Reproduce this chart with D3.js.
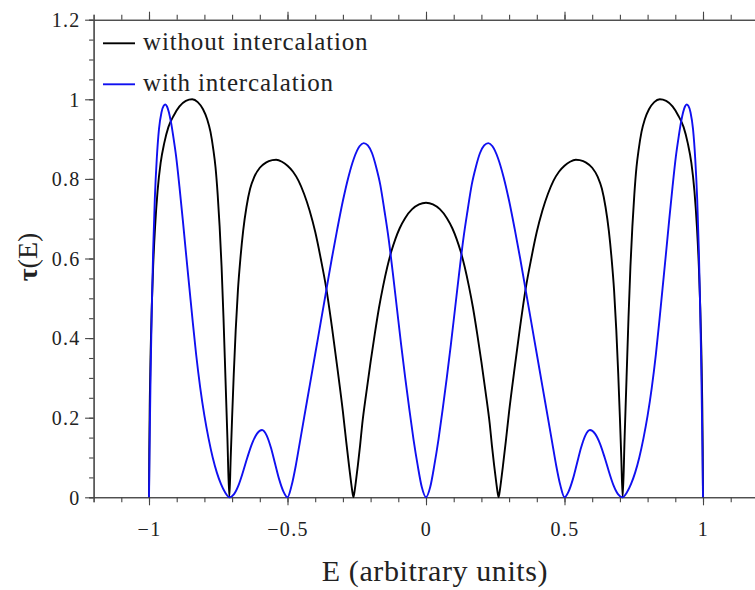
<!DOCTYPE html>
<html>
<head>
<meta charset="utf-8">
<script src="https://cdn.jsdelivr.net/npm/d3@7"></script>
<style>
  html, body { margin: 0; padding: 0; background: #fff; }
  svg { display: block; }
  text { font-family: "Liberation Serif", "Times New Roman", serif; fill: #222; }
</style>
</head>
<body>
<svg id="chart" width="755" height="590"></svg>
<script>
// Transmission spectrum τ(E) of the chain, with and without intercalation.
const energyBlack = [
  -1, -0.999, -0.997, -0.994, -0.99, -0.985, -0.978, -0.969, -0.958, -0.945, -0.93, -0.91, -0.89, -0.867, -0.844,
  -0.824, -0.805, -0.79, -0.778, -0.768, -0.76, -0.752, -0.745, -0.738, -0.731, -0.724, -0.717, -0.71,
  -0.705, -0.7, -0.694, -0.687, -0.679, -0.67, -0.66, -0.648, -0.635, -0.62, -0.6, -0.578, -0.555, -0.541,
  -0.52, -0.5, -0.48, -0.46, -0.44, -0.42, -0.4, -0.38, -0.36, -0.34, -0.32, -0.3, -0.288, -0.278, -0.27, -0.265, -0.262,
  -0.259, -0.254, -0.246, -0.238, -0.23, -0.215, -0.2, -0.185, -0.17, -0.155, -0.14, -0.125, -0.11, -0.095, -0.075, -0.05, -0.025, 0,
  0.025, 0.05, 0.075, 0.095, 0.11, 0.125, 0.14, 0.155, 0.17, 0.185, 0.2, 0.215, 0.23, 0.238, 0.246, 0.254, 0.259,
  0.262, 0.265, 0.27, 0.278, 0.288, 0.3, 0.32, 0.34, 0.36, 0.38, 0.4, 0.42, 0.44, 0.46, 0.48, 0.5, 0.52,
  0.541, 0.555, 0.578, 0.6, 0.62, 0.635, 0.648, 0.66, 0.67, 0.679, 0.687, 0.694, 0.7, 0.705,
  0.71, 0.717, 0.724, 0.731, 0.738, 0.745, 0.752, 0.76, 0.768, 0.778, 0.79, 0.805, 0.824,
  0.844, 0.867, 0.89, 0.91, 0.93, 0.945, 0.958, 0.969, 0.978, 0.985, 0.99, 0.994, 0.997, 0.999, 1
];
const tauBlack = [
  0, 0.12, 0.25, 0.37, 0.48, 0.58, 0.68, 0.77, 0.84, 0.89, 0.93, 0.96, 0.982, 0.996, 1.0,
  0.993, 0.975, 0.95, 0.918, 0.875, 0.83, 0.76, 0.68, 0.58, 0.45, 0.3, 0.15, 0,
  0.1, 0.2, 0.31, 0.42, 0.52, 0.6, 0.67, 0.73, 0.775, 0.805, 0.828, 0.841, 0.847, 0.848,
  0.843, 0.833, 0.818, 0.795, 0.762, 0.72, 0.667, 0.6, 0.525, 0.43, 0.325, 0.215, 0.14, 0.08, 0.035, 0.01, 0,
  0.01, 0.035, 0.08, 0.13, 0.185, 0.265, 0.34, 0.41, 0.475, 0.53, 0.578, 0.618, 0.65, 0.676, 0.702, 0.724, 0.736, 0.74,
  0.736, 0.724, 0.702, 0.676, 0.65, 0.618, 0.578, 0.53, 0.475, 0.41, 0.34, 0.265, 0.185, 0.13, 0.08, 0.035, 0.01,
  0, 0.01, 0.035, 0.08, 0.14, 0.215, 0.325, 0.43, 0.525, 0.6, 0.667, 0.72, 0.762, 0.795, 0.818, 0.833, 0.843,
  0.848, 0.847, 0.841, 0.828, 0.805, 0.775, 0.73, 0.67, 0.6, 0.52, 0.42, 0.31, 0.2, 0.1,
  0, 0.15, 0.3, 0.45, 0.58, 0.68, 0.76, 0.83, 0.875, 0.918, 0.95, 0.975, 0.993,
  1.0, 0.996, 0.982, 0.96, 0.93, 0.89, 0.84, 0.77, 0.68, 0.58, 0.48, 0.37, 0.25, 0.12, 0
];

const energyBlue = [
  -1, -0.997, -0.994, -0.99, -0.985, -0.979, -0.972, -0.964, -0.955, -0.947, -0.941, -0.935, -0.928, -0.92, -0.912,
  -0.902, -0.89, -0.878, -0.866, -0.854, -0.842, -0.83, -0.815, -0.8, -0.785, -0.77, -0.755, -0.74, -0.725, -0.709,
  -0.693, -0.677, -0.661, -0.645, -0.628, -0.61, -0.592, -0.575, -0.56, -0.545, -0.53, -0.515, -0.5,
  -0.485, -0.47, -0.455, -0.44, -0.42, -0.4, -0.38, -0.36, -0.34, -0.32, -0.3, -0.28, -0.26, -0.24, -0.225,
  -0.21, -0.195, -0.18, -0.165, -0.15, -0.135, -0.12, -0.105, -0.09, -0.075, -0.06, -0.045, -0.03, -0.015, 0,
  0.015, 0.03, 0.045, 0.06, 0.075, 0.09, 0.105, 0.12, 0.135, 0.15, 0.165, 0.18, 0.195, 0.21,
  0.225, 0.24, 0.26, 0.28, 0.3, 0.32, 0.34, 0.36, 0.38, 0.4, 0.42, 0.44, 0.455, 0.47, 0.485,
  0.5, 0.515, 0.53, 0.545, 0.56, 0.575, 0.592, 0.61, 0.628, 0.645, 0.661, 0.677, 0.693,
  0.709, 0.725, 0.74, 0.755, 0.77, 0.785, 0.8, 0.815, 0.83, 0.842, 0.854, 0.866, 0.878, 0.89, 0.902,
  0.912, 0.92, 0.928, 0.935, 0.941, 0.947, 0.955, 0.964, 0.972, 0.979, 0.985, 0.99, 0.994, 0.997, 1
];
const tauBlue = [
  0, 0.17, 0.32, 0.47, 0.62, 0.75, 0.85, 0.925, 0.967, 0.984, 0.987, 0.982, 0.967, 0.94, 0.905,
  0.856, 0.78, 0.697, 0.61, 0.525, 0.44, 0.36, 0.275, 0.205, 0.148, 0.1, 0.062, 0.033, 0.012, 0,
  0.008, 0.03, 0.063, 0.1, 0.135, 0.16, 0.169, 0.155, 0.125, 0.085, 0.045, 0.015, 0,
  0.03, 0.08, 0.14, 0.2, 0.28, 0.36, 0.44, 0.52, 0.6, 0.675, 0.745, 0.805, 0.852, 0.882, 0.89,
  0.884, 0.865, 0.83, 0.785, 0.72, 0.65, 0.565, 0.475, 0.385, 0.3, 0.22, 0.145, 0.08, 0.025, 0,
  0.025, 0.08, 0.145, 0.22, 0.3, 0.385, 0.475, 0.565, 0.65, 0.72, 0.785, 0.83, 0.865, 0.884,
  0.89, 0.882, 0.852, 0.805, 0.745, 0.675, 0.6, 0.52, 0.44, 0.36, 0.28, 0.2, 0.14, 0.08, 0.03,
  0, 0.015, 0.045, 0.085, 0.125, 0.155, 0.169, 0.16, 0.135, 0.1, 0.063, 0.03, 0.008,
  0, 0.012, 0.033, 0.062, 0.1, 0.148, 0.205, 0.275, 0.36, 0.44, 0.525, 0.61, 0.697, 0.78, 0.856,
  0.905, 0.94, 0.967, 0.982, 0.987, 0.984, 0.967, 0.925, 0.85, 0.75, 0.62, 0.47, 0.32, 0.17, 0
];

const seriesNames = ["without intercalation", "with intercalation"];
const seriesColors = ["#000000", "#1010f0"];

const xMajorTicks = [-1, -0.5, 0, 0.5, 1];
const xTickLabels = ["\u22121", "\u22120.5", "0", "0.5", "1"];
const yMajorTicks = [0, 0.2, 0.4, 0.6, 0.8, 1, 1.2];
const yTickLabels = ["0", "0.2", "0.4", "0.6", "0.8", "1", "1.2"];
const xMinorTicks = d3.range(-12, 13).map(i => i / 10);
const yMinorTicks = d3.range(0, 25).map(i => i / 20);

const svg = d3.select("#chart");
const x = d3.scaleLinear().domain([-1.2, 1.2]).range([93.6, 758.4]);
const y = d3.scaleLinear().domain([0, 1.2]).range([497.3, 19.7]);

const axisColor = "#444";

function styleAxis(g) {
  g.select(".domain").attr("stroke", axisColor).attr("stroke-width", 1.1);
  g.selectAll(".tick line").attr("stroke", axisColor).attr("stroke-width", 1.1);
}

// bottom axis: minor then major ticks
svg.append("g").attr("transform", `translate(0,${y(0)})`)
  .call(d3.axisBottom(x).tickValues(xMinorTicks).tickSize(5).tickFormat(""))
  .call(styleAxis);
const xAxisMajor = svg.append("g").attr("transform", `translate(0,${y(0)})`)
  .call(d3.axisBottom(x).tickValues(xMajorTicks).tickSize(8).tickSizeOuter(0)
    .tickFormat((d, i) => xTickLabels[i]))
  .call(styleAxis);
xAxisMajor.selectAll(".tick text")
  .attr("y", 0).attr("dy", null).attr("transform", "translate(0,38.7)")
  .style("font-size", "20px").style("letter-spacing", "1.3px")
  .attr("fill", "#222");

// top axis: ticks point upward, no labels
svg.append("g").attr("transform", `translate(0,${y(1.2)})`)
  .call(d3.axisTop(x).tickValues(xMinorTicks).tickSize(5).tickFormat(""))
  .call(styleAxis);
svg.append("g").attr("transform", `translate(0,${y(1.2)})`)
  .call(d3.axisTop(x).tickValues(xMajorTicks).tickSize(8).tickSizeOuter(0).tickFormat(""))
  .call(styleAxis);

// left axis
svg.append("g").attr("transform", `translate(${x(-1.2)},0)`)
  .call(d3.axisLeft(y).tickValues(yMinorTicks).tickSize(4.5).tickFormat(""))
  .call(styleAxis);
const yAxisMajor = svg.append("g").attr("transform", `translate(${x(-1.2)},0)`)
  .call(d3.axisLeft(y).tickValues(yMajorTicks).tickSize(8.5).tickSizeOuter(0)
    .tickFormat((d, i) => yTickLabels[i]))
  .call(styleAxis);
yAxisMajor.selectAll(".tick text")
  .attr("x", -13).attr("dy", "0.34em")
  .style("font-size", "20px").style("letter-spacing", "1.3px")
  .attr("fill", "#222");

// curves
const line = d3.line()
  .x(d => x(d[0]))
  .y(d => y(d[1]))
  .curve(d3.curveMonotoneX);

const series = [
  d3.zip(energyBlack, tauBlack),
  d3.zip(energyBlue, tauBlue)
];

series.forEach((pts, i) => {
  svg.append("path")
    .datum(pts)
    .attr("fill", "none")
    .attr("stroke", seriesColors[i])
    .attr("stroke-width", 1.9)
    .attr("stroke-linejoin", "round")
    .attr("d", line);
});

// legend
const legend = svg.append("g");
seriesNames.forEach((name, i) => {
  const ly = 43.3 + i * 41;
  legend.append("line")
    .attr("x1", 103).attr("x2", 135).attr("y1", ly).attr("y2", ly)
    .attr("stroke", seriesColors[i]).attr("stroke-width", 1.9);
  legend.append("text")
    .attr("x", 143).attr("y", ly + 7)
    .style("font-size", "25px").style("letter-spacing", "0.85px")
    .text(name);
});

// axis titles
svg.append("text")
  .attr("x", x(0) + 9).attr("y", 581)
  .attr("text-anchor", "middle")
  .style("font-size", "30px").style("letter-spacing", "0.6px")
  .text("E (arbitrary units)");

const yTitle = svg.append("text")
  .attr("transform", "translate(37,257) rotate(-90)")
  .attr("text-anchor", "middle")
  .style("font-size", "28px");
yTitle.append("tspan").style("font-weight", "bold").text("\u03c4");
yTitle.append("tspan").text("(E)");
</script>
</body>
</html>
